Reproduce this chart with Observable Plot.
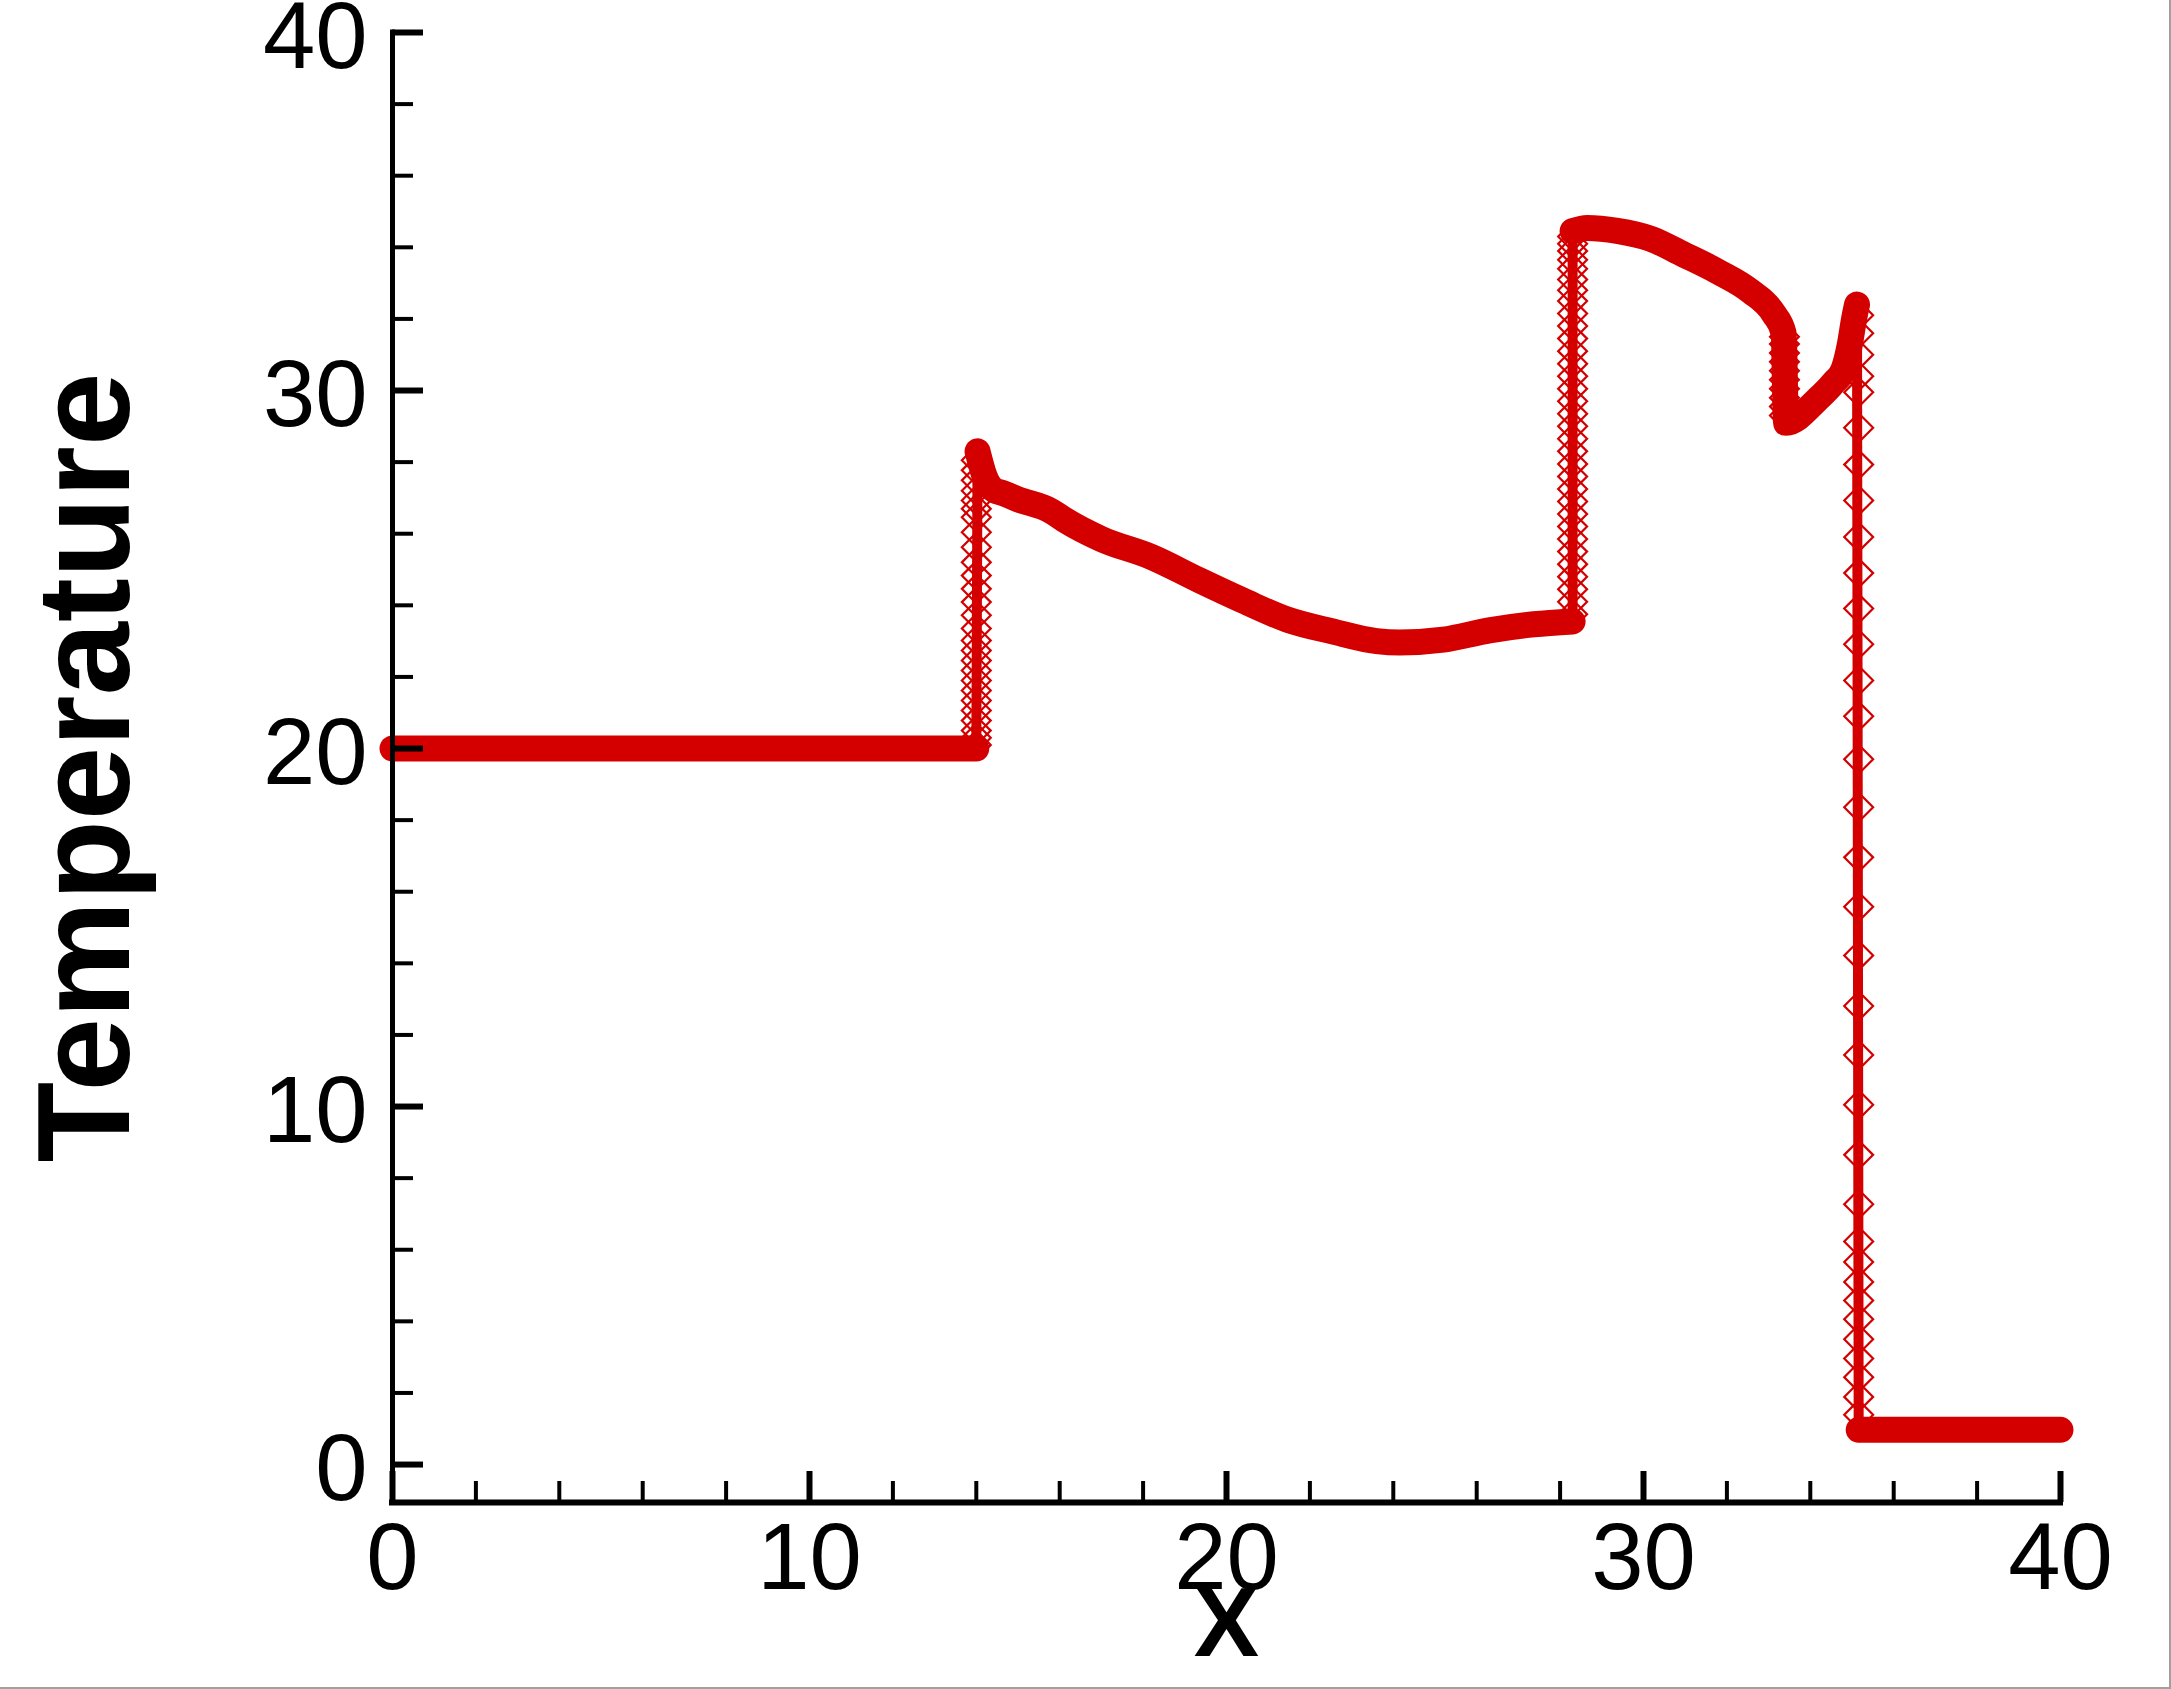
<!DOCTYPE html>
<html><head><meta charset="utf-8">
<script src="https://cdn.jsdelivr.net/npm/d3@7"></script>
<script src="https://cdn.jsdelivr.net/npm/@observablehq/plot@0.6"></script>
<style>
body{margin:0;background:#fff;}
#wrap{position:relative;width:2171px;height:1689px;overflow:hidden;background:#fff;}
#edge{position:absolute;left:0;top:0;width:2169px;height:1687px;border-right:2px solid #a0a0a0;border-bottom:2px solid #a0a0a0;pointer-events:none;z-index:2;}
svg{display:block;}
</style></head><body><div id="wrap"></div>
<script>
// ---- data ----
const curveX   = [0, 14.0,
                  14.03, 14.2, 14.45, 14.6, 15.0, 15.8, 16.1, 17.0, 18.2, 19.35, 20.4, 21.46, 22.54, 23.6, 24.15, 25.2, 26.3, 27.37, 28.3,
                  28.3, 28.65, 29.37, 30.17, 30.96, 31.77, 32.57, 33.12, 33.36,
                  33.42, 34.17, 34.56, 34.8, 34.95, 35.05, 35.12,
                  35.16, 40];
const curveT   = [20, 20,
                  28.3, 27.6, 27.2, 27.15, 26.96, 26.63, 26.4, 25.85, 25.35, 24.7, 24.13, 23.6, 23.27, 23.0, 22.96, 23.04, 23.3, 23.47, 23.55,
                  34.45, 34.54, 34.46, 34.24, 33.8, 33.33, 32.77, 32.15, 31.6,
                  29.1, 29.75, 30.22, 30.6, 31.3, 32.0, 32.4,
                  0.97, 0.97];
const curveSeg = [1, 1,
                  2, 2, 2, 2, 2, 2, 2, 2, 2, 2, 2, 2, 2, 2, 2, 2, 2, 2, 2,
                  3, 3, 3, 3, 3, 3, 3, 3, 3,
                  3, 3, 3, 3, 3, 3, 3,
                  5, 5];

const jumpX = [14.0, 28.3, 33.38, 35.16];
const jumpT1 = [20.1, 20.3, 20.5, 20.78, 21.06, 21.34, 21.62, 21.9, 22.18, 22.46, 22.74, 23.02, 23.35, 23.72, 24.09, 24.46, 24.83, 25.2, 25.62, 26.04, 26.46, 26.7, 26.93, 27.2, 27.49, 27.77, 28.05];
const jumpT2 = [23.75, 24.1, 24.45, 24.8, 25.15, 25.5, 25.85, 26.2, 26.55, 26.9, 27.25, 27.6, 27.95, 28.3, 28.65, 29.0, 29.35, 29.7, 30.05, 30.4, 30.75, 31.1, 31.45, 31.8, 32.15, 32.5, 32.8, 33.1, 33.4, 33.65, 33.9, 34.1, 34.3];
const jumpT3 = [29.3, 29.55, 29.8, 30.05, 30.3, 30.55, 30.8, 31.05, 31.3, 31.5];
const jumpT4 = [32.1, 31.6, 31.0, 30.4, 29.95, 28.96, 27.93, 26.93, 25.91, 24.9, 23.91, 22.91, 21.9, 20.9, 19.7, 18.36, 16.96, 15.58, 14.22, 12.81, 11.44, 10.05, 8.65, 7.27, 6.23, 5.66, 5.1, 4.58, 4.06, 3.5, 2.96, 2.44, 1.89, 1.39];

const xMajor = [0, 10, 20, 30, 40];
const xMinor = [2, 4, 6, 8, 12, 14, 16, 18, 22, 24, 26, 28, 32, 34, 36, 38];
const yMajor = [0, 10, 20, 30, 40];
const yMinor = [2, 4, 6, 8, 12, 14, 16, 18, 22, 24, 26, 28, 32, 34, 36, 38];
const xDomain = [0, 40];
const yDomain = [-1.06, 40];
const xTitle = "X";
const yTitle = "Temperature";

// ---- build tables ----
const curve = curveX.map((x, i) => ({x, t: curveT[i], seg: curveSeg[i]}));
const markers = [jumpT1, jumpT2, jumpT3, jumpT4].flatMap((arr, j) => arr.map(t => ({x: jumpX[j], t})));

const W = 2171, H = 1689;
const mL = 392, mR = 111, mT = 32, mB = 187;
const frameW = W - mL - mR, frameH = H - mT - mB;
const red = "#d40000";
const font = "'Liberation Sans', Arial, Helvetica, sans-serif";

const chart = Plot.plot({
  width: W, height: H,
  marginLeft: mL, marginRight: mR, marginTop: mT, marginBottom: mB,
  style: {fontFamily: font, background: "white", overflow: "visible"},
  x: {domain: xDomain},
  y: {domain: yDomain},
  marks: [
    // data
    Plot.line(curve, {x: "x", y: "t", stroke: red, strokeWidth: 10, strokeLinejoin: "round", strokeLinecap: "round"}),
    Plot.line(curve, {x: "x", y: "t", z: "seg", curve: "monotone-x", stroke: red, strokeWidth: 26, strokeLinejoin: "round", strokeLinecap: "round"}),
    Plot.dot(markers, {x: "x", y: "t", symbol: "diamond2", r: 13, stroke: red, strokeWidth: 2.2, fill: "none"}),
    // axes lines
    Plot.ruleX([xDomain[0]], {stroke: "black", strokeWidth: 5, strokeLinecap: "square"}),
    Plot.ruleY([yDomain[0]], {stroke: "black", strokeWidth: 6, strokeLinecap: "square"}),
    // ticks (inward)
    Plot.tickX(xMinor, {x: d => d, insetTop: frameH - 21, stroke: "black", strokeWidth: 4}),
    Plot.tickX(xMajor, {x: d => d, insetTop: frameH - 31, stroke: "black", strokeWidth: 6}),
    Plot.tickY(yMinor, {y: d => d, insetRight: frameW - 21, stroke: "black", strokeWidth: 4}),
    Plot.tickY(yMajor, {y: d => d, insetRight: frameW - 31, stroke: "black", strokeWidth: 6}),
    // tick labels
    Plot.axisX({ticks: xMajor, tickSize: 0, tickPadding: 20, fontSize: 94, label: null, tickFormat: d => String(d), fill: "black"}),
    Plot.axisY({ticks: yMajor, tickSize: 0, tickPadding: 25, dy: 5, fontSize: 94, label: null, tickFormat: d => String(d), fill: "black"}),
    // titles
    Plot.text([xTitle], {frameAnchor: "bottom", lineAnchor: "bottom", dy: 153, text: d => d, fontSize: 98, fontWeight: "bold", fill: "black"}),
    Plot.text([yTitle], {frameAnchor: "left", textAnchor: "middle", rotate: -90, dx: -306, text: d => d, fontSize: 132, fontWeight: "bold", fill: "black", lineAnchor: "middle"})
  ]
});
const wrap = document.getElementById("wrap");
wrap.appendChild(chart);
const edge = document.createElement("div");
edge.id = "edge";
wrap.appendChild(edge);
</script>
</body></html>
